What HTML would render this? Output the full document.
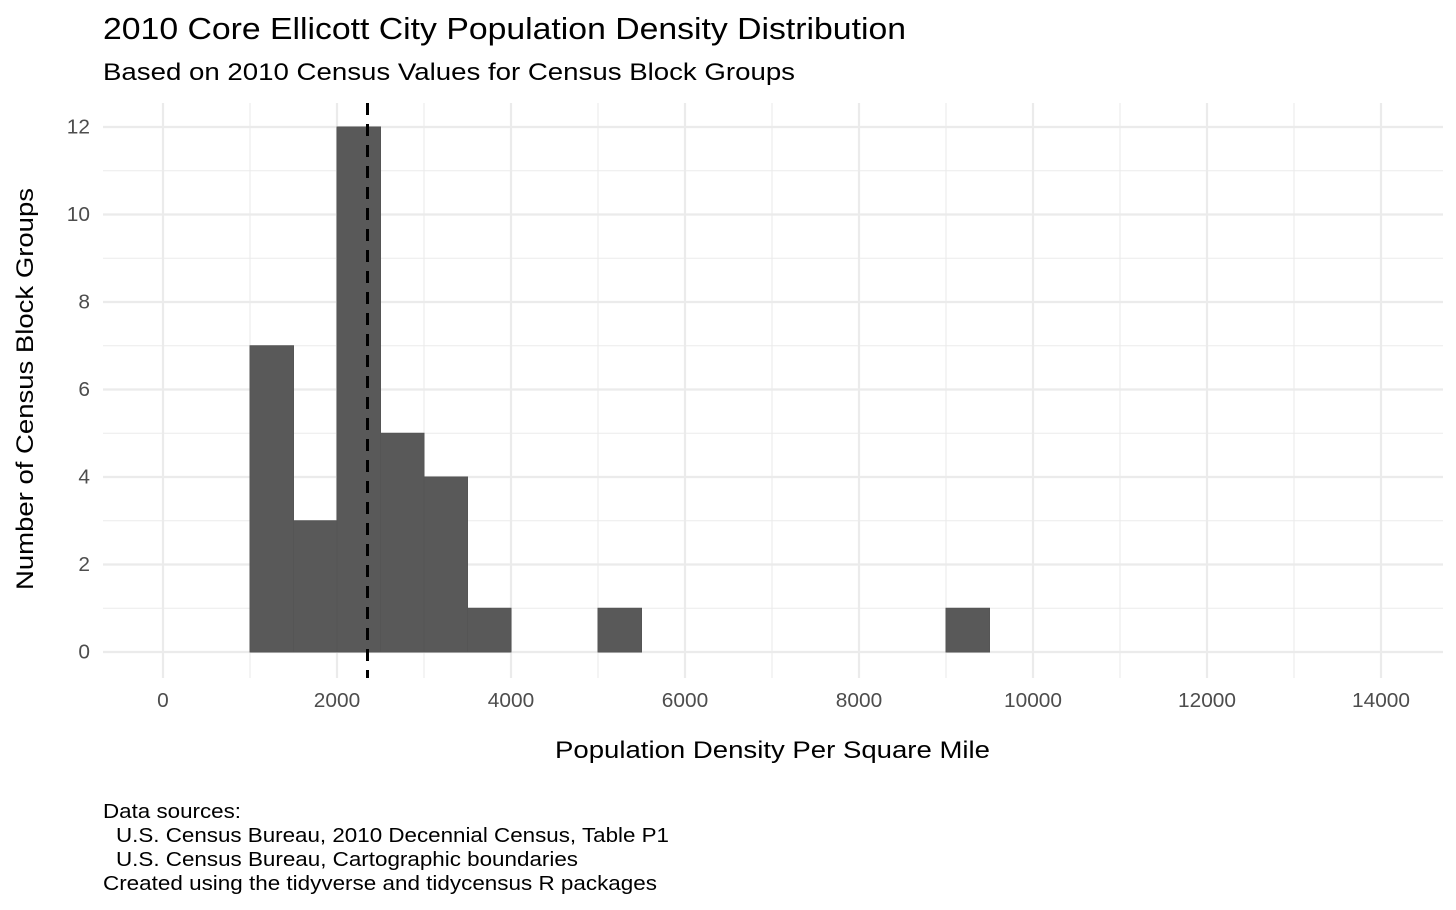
<!DOCTYPE html>
<html><head><meta charset="utf-8"><style>html,body{margin:0;padding:0;background:#fff}svg{display:block}</style></head>
<body>
<svg width="1456" height="910" xmlns="http://www.w3.org/2000/svg" font-family="Liberation Sans, sans-serif">
<rect width="1456" height="910" fill="#fff"/>
<g stroke="#ebebeb">
  <g stroke-width="1.1">
    <line x1="250" y1="103" x2="250" y2="678"/>
    <line x1="424" y1="103" x2="424" y2="678"/>
    <line x1="598" y1="103" x2="598" y2="678"/>
    <line x1="772" y1="103" x2="772" y2="678"/>
    <line x1="946" y1="103" x2="946" y2="678"/>
    <line x1="1120" y1="103" x2="1120" y2="678"/>
    <line x1="1294" y1="103" x2="1294" y2="678"/>
    <line x1="103" y1="608.25" x2="1443" y2="608.25"/>
    <line x1="103" y1="520.75" x2="1443" y2="520.75"/>
    <line x1="103" y1="433.25" x2="1443" y2="433.25"/>
    <line x1="103" y1="345.75" x2="1443" y2="345.75"/>
    <line x1="103" y1="258.25" x2="1443" y2="258.25"/>
    <line x1="103" y1="170.75" x2="1443" y2="170.75"/>
  </g>
  <g stroke-width="2.2">
    <line x1="163" y1="103" x2="163" y2="678"/>
    <line x1="337" y1="103" x2="337" y2="678"/>
    <line x1="511" y1="103" x2="511" y2="678"/>
    <line x1="685" y1="103" x2="685" y2="678"/>
    <line x1="859" y1="103" x2="859" y2="678"/>
    <line x1="1033" y1="103" x2="1033" y2="678"/>
    <line x1="1207" y1="103" x2="1207" y2="678"/>
    <line x1="1381" y1="103" x2="1381" y2="678"/>
    <line x1="103" y1="652" x2="1443" y2="652"/>
    <line x1="103" y1="564.5" x2="1443" y2="564.5"/>
    <line x1="103" y1="477" x2="1443" y2="477"/>
    <line x1="103" y1="389.5" x2="1443" y2="389.5"/>
    <line x1="103" y1="302" x2="1443" y2="302"/>
    <line x1="103" y1="214.5" x2="1443" y2="214.5"/>
    <line x1="103" y1="127" x2="1443" y2="127"/>
  </g>
</g>
<g fill="#595959" stroke="#555" stroke-width="1">
  <rect x="250" y="345.75" width="43.5" height="306.25"/>
  <rect x="293.5" y="520.75" width="43.5" height="131.25"/>
  <rect x="337" y="127" width="43.5" height="525"/>
  <rect x="380.5" y="433.25" width="43.5" height="218.75"/>
  <rect x="424" y="477" width="43.5" height="175"/>
  <rect x="467.5" y="608.25" width="43.5" height="43.75"/>
  <rect x="598" y="608.25" width="43.5" height="43.75"/>
  <rect x="946" y="608.25" width="43.5" height="43.75"/>
</g>
<line x1="367.5" y1="103" x2="367.5" y2="678" stroke="#000" stroke-width="3" stroke-dasharray="12,9"/>
<g font-size="20" fill="#4d4d4d" text-anchor="middle">
  <text x="163" y="707" textLength="11.6" lengthAdjust="spacingAndGlyphs">0</text>
  <text x="337" y="707" textLength="46.4" lengthAdjust="spacingAndGlyphs">2000</text>
  <text x="511" y="707" textLength="46.4" lengthAdjust="spacingAndGlyphs">4000</text>
  <text x="685" y="707" textLength="46.4" lengthAdjust="spacingAndGlyphs">6000</text>
  <text x="859" y="707" textLength="46.4" lengthAdjust="spacingAndGlyphs">8000</text>
  <text x="1033" y="707" textLength="58" lengthAdjust="spacingAndGlyphs">10000</text>
  <text x="1207" y="707" textLength="58" lengthAdjust="spacingAndGlyphs">12000</text>
  <text x="1381" y="707" textLength="58" lengthAdjust="spacingAndGlyphs">14000</text>
</g>
<g font-size="20" fill="#4d4d4d" text-anchor="end">
  <text x="90" y="658.5" textLength="11.6" lengthAdjust="spacingAndGlyphs">0</text>
  <text x="90" y="571" textLength="11.6" lengthAdjust="spacingAndGlyphs">2</text>
  <text x="90" y="483.5" textLength="11.6" lengthAdjust="spacingAndGlyphs">4</text>
  <text x="90" y="396" textLength="11.6" lengthAdjust="spacingAndGlyphs">6</text>
  <text x="90" y="308.5" textLength="11.6" lengthAdjust="spacingAndGlyphs">8</text>
  <text x="90" y="221" textLength="23.2" lengthAdjust="spacingAndGlyphs">10</text>
  <text x="90" y="133.5" textLength="23.2" lengthAdjust="spacingAndGlyphs">12</text>
</g>
<text x="555" y="758" font-size="24" fill="#000" textLength="435" lengthAdjust="spacingAndGlyphs">Population Density Per Square Mile</text>
<text transform="translate(33,590) rotate(-90)" font-size="24" fill="#000" textLength="402" lengthAdjust="spacingAndGlyphs">Number of Census Block Groups</text>
<text x="103" y="39" font-size="31" fill="#000" textLength="803" lengthAdjust="spacingAndGlyphs">2010 Core Ellicott City Population Density Distribution</text>
<text x="103" y="80" font-size="24" fill="#000" textLength="692" lengthAdjust="spacingAndGlyphs">Based on 2010 Census Values for Census Block Groups</text>
<g font-size="20.5" fill="#000">
  <text x="103" y="818" textLength="138" lengthAdjust="spacingAndGlyphs">Data sources:</text>
  <text x="116" y="842" textLength="553" lengthAdjust="spacingAndGlyphs">U.S. Census Bureau, 2010 Decennial Census, Table P1</text>
  <text x="116" y="866" textLength="462" lengthAdjust="spacingAndGlyphs">U.S. Census Bureau, Cartographic boundaries</text>
  <text x="103" y="890" textLength="554" lengthAdjust="spacingAndGlyphs">Created using the tidyverse and tidycensus R packages</text>
</g>
</svg>
</body></html>
